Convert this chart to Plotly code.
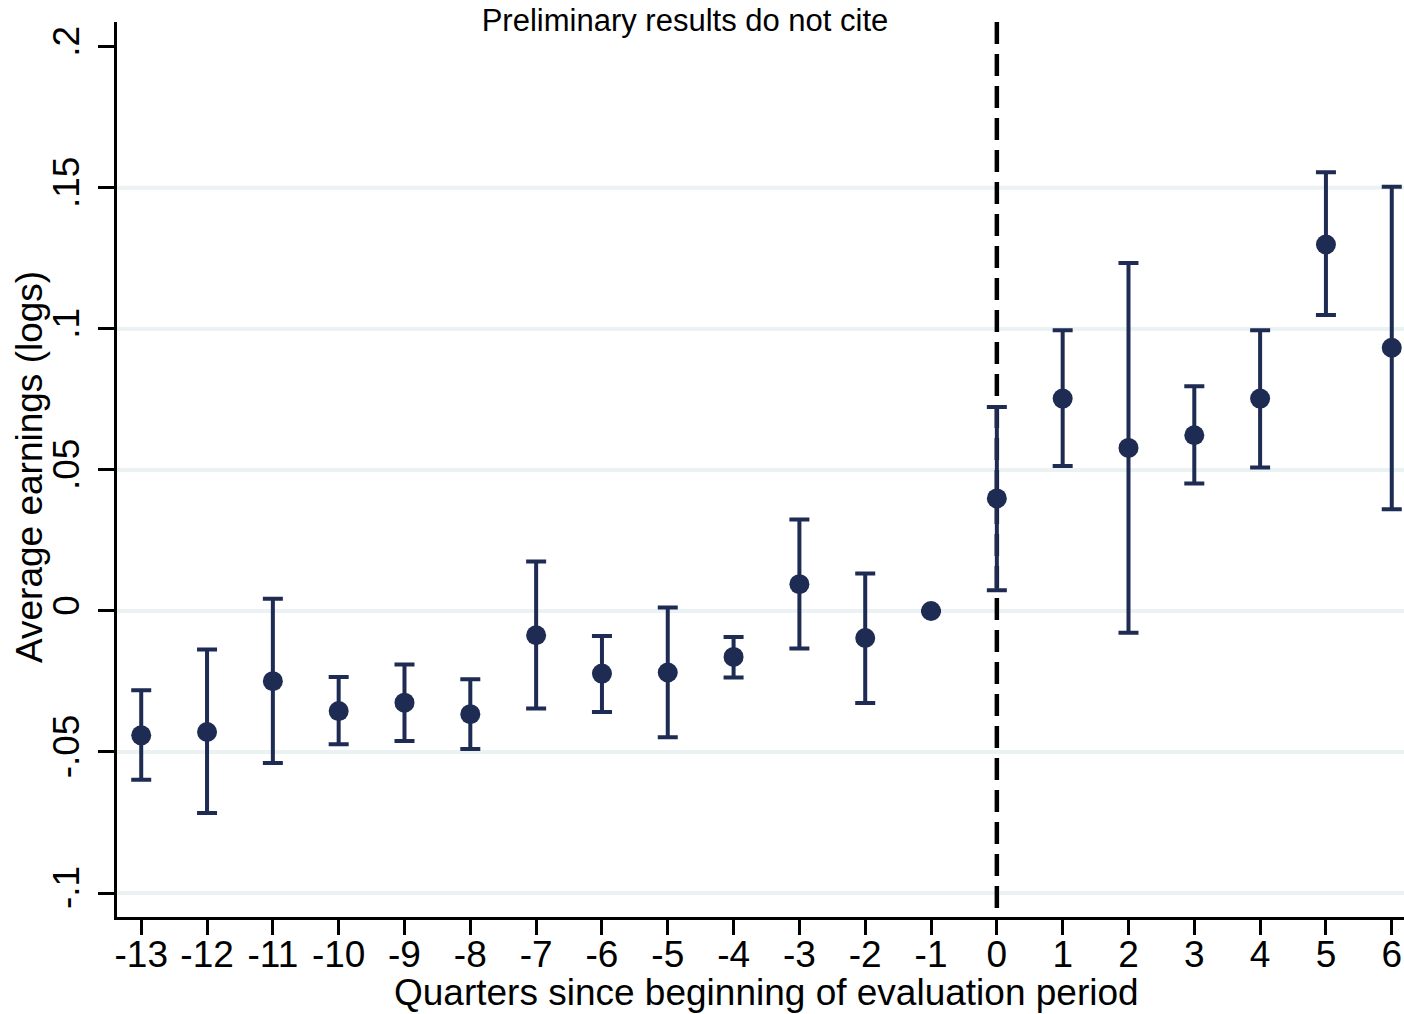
import plotly.graph_objects as go
import numpy as np

quarters = [-13, -12, -11, -10, -9, -8, -7, -6, -5, -4, -3, -2, -1, 0, 1, 2, 3, 4, 5, 6]
estimate = [-0.0441, -0.0429, -0.0249, -0.0355, -0.0325, -0.0366, -0.0086, -0.0222, -0.0218, -0.0163,
            0.0095, -0.0096, 0.0, 0.0399, 0.0753, 0.0578, 0.0623, 0.0753, 0.1299, 0.0933]
ci_upper = [-0.0281, -0.0137, 0.0043, -0.0234, -0.0190, -0.0242, 0.0175, -0.0089, 0.0012, -0.0092,
            0.0324, 0.0133, None, 0.0723, 0.0995, 0.1234, 0.0797, 0.0995, 0.1555, 0.1504]
ci_lower = [-0.0598, -0.0716, -0.0539, -0.0473, -0.0461, -0.0489, -0.0346, -0.0358, -0.0448, -0.0236,
            -0.0133, -0.0326, None, 0.0073, 0.0514, -0.0077, 0.0452, 0.0509, 0.1049, 0.0361]

y_tickvals = [-0.1, -0.05, 0, 0.05, 0.1, 0.15, 0.2]
y_ticktext = ["-.1", "-.05", "0", ".05", ".1", ".15", ".2"]
grid_vals = [-0.1, -0.05, 0, 0.05, 0.1, 0.15]
event_quarter = 0

title_text = "Preliminary results do not cite"
x_title = "Quarters since beginning of evaluation period"
y_title = "Average earnings (logs)"

err_plus = [np.nan if u is None else u - e for u, e in zip(ci_upper, estimate)]
err_minus = [np.nan if l is None else e - l for l, e in zip(ci_lower, estimate)]

navy = "#1e2b52"
FONT = "Liberation Sans, Arial, sans-serif"
W, H = 1404, 1014
L, R, T, B = 117, 0, 22, 97

fig = go.Figure()
fig.add_trace(go.Scatter(
    x=quarters, y=estimate, mode="markers", cliponaxis=False,
    marker=dict(color=navy, size=20, line=dict(width=0)),
    error_y=dict(type="data", symmetric=False, array=err_plus, arrayminus=err_minus,
                 color=navy, thickness=4, width=10),
    showlegend=False, hoverinfo="skip",
))

shapes = []
for g in grid_vals:
    shapes.append(dict(type="line", xref="paper", yref="y", x0=0, x1=1, y0=g, y1=g,
                       line=dict(color="#eaf2f3", width=4), layer="below"))
shapes.append(dict(type="line", xref="x", yref="paper", x0=event_quarter, x1=event_quarter, y0=1, y1=0,
                   line=dict(color="black", width=4.5, dash="22px,10px"), layer="below"))

pw, ph = W - L - R, H - T - B
annotations = [
    dict(text=x_title, xref="paper", yref="paper", x=(766 - L) / pw, y=-(993 - (H - B)) / ph,
         xanchor="center", yanchor="middle", showarrow=False, font=dict(size=37, family=FONT)),
    dict(text=y_title, xref="paper", yref="paper", x=(29 - L) / pw, y=((H - B) - 467) / ph,
         xanchor="center", yanchor="middle", textangle=-90, showarrow=False,
         font=dict(size=37, family=FONT)),
]

fig.update_layout(
    width=W, height=H,
    margin=dict(l=L, r=R, t=T, b=B, autoexpand=False),
    paper_bgcolor="white", plot_bgcolor="white",
    font=dict(family=FONT, color="black", size=36),
    shapes=shapes, annotations=annotations,
    title=dict(text=title_text, x=685 / W, xanchor="center", xref="container",
               y=1 - 20 / H, yanchor="middle", yref="container",
               font=dict(size=31, family=FONT, color="black")),
    xaxis=dict(
        range=[-13.368, 6.186], tickmode="array", tickvals=quarters,
        ticktext=[str(q) for q in quarters], automargin=False,
        showgrid=False, zeroline=False, showline=True, linecolor="black", linewidth=2.7,
        ticks="outside", ticklen=15, tickwidth=2.7, tickcolor="black",
        tickfont=dict(size=37, family=FONT), ticklabelstandoff=-12,
    ),
    yaxis=dict(
        range=[-0.1085, 0.2088], tickmode="array", tickvals=y_tickvals, ticktext=y_ticktext,
        tickangle=-90, automargin=False,
        showgrid=False, zeroline=False, showline=True, linecolor="black", linewidth=2.7,
        ticks="outside", ticklen=16, tickwidth=2.7, tickcolor="black",
        tickfont=dict(size=37, family=FONT), ticklabelstandoff=4,
    ),
)

fig.write_html("out.html", config={"displayModeBar": False},
               post_script="document.body.style.margin='0';document.body.style.padding='0';")
